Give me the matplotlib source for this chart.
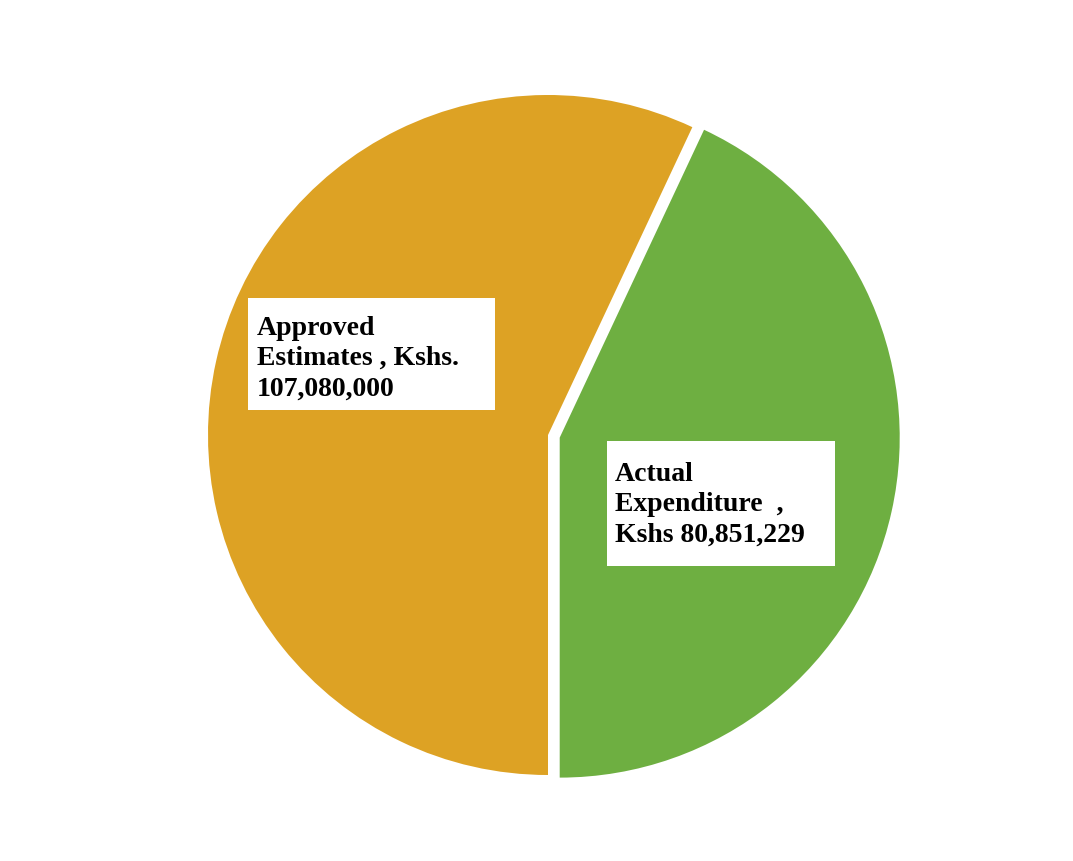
import matplotlib
matplotlib.use("Agg")
import matplotlib.pyplot as plt
from matplotlib.patches import Rectangle

W, H = 1073, 861

labels = ["Approved\nEstimates , Kshs.\n107,080,000",
          "Actual\nExpenditure  ,\nKshs 80,851,229"]
values = [107080000, 80851229]
colors = ["#DDA224", "#6EAF41"]

fig = plt.figure(figsize=(W / 100, H / 100), dpi=100)
ax = fig.add_axes([0, 0, 1, 1])

# pie drawn in pixel space (y measured from bottom)
ax.pie(values, colors=colors, center=(548, H - 435), radius=340,
       startangle=270, counterclock=False, explode=[0, 12],
       wedgeprops=dict(linewidth=0), frame=True)
ax.set_xlim(0, W)
ax.set_ylim(0, H)
ax.set_aspect("equal")
ax.axis("off")

# label boxes: (left, top, right, bottom) in pixels, text origin
boxes = [((248, 298, 495, 410), (257, 316)),
         ((607, 441, 835, 566), (615, 462))]
for lab, (box, txt) in zip(labels, boxes):
    x0, y0, x1, y1 = box
    ax.add_patch(Rectangle((x0, H - y1), x1 - x0, y1 - y0,
                           facecolor="white", edgecolor="none", zorder=3))
    ax.text(txt[0], H - txt[1], lab, ha="left", va="top", fontsize=20,
            fontweight="bold", family="Liberation Serif", linespacing=1.27,
            color="black", zorder=4)

fig.savefig("out.png", dpi=100, facecolor="white")
